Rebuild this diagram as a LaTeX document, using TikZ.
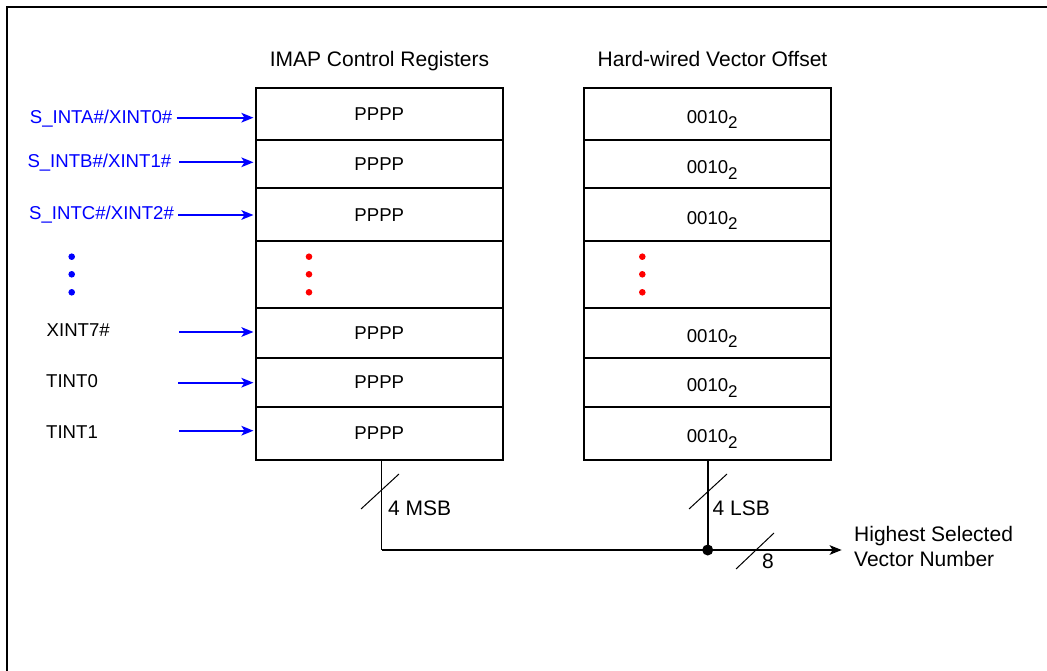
\documentclass[tikz,border=0pt]{standalone}
\usepackage{fontspec}
\setmainfont{Liberation Sans}
\usetikzlibrary{arrows.meta}
\newcommand\lblfont{\fontsize{18.6}{22}\selectfont}
\newcommand\hdfont{\fontsize{21}{25}\selectfont}
\newcommand\subfont{\fontsize{17}{19}\selectfont}
\begin{document}
\begin{tikzpicture}[x=1pt,y=-1pt,
  cell/.style={draw, line width=2pt, inner sep=0pt, outer sep=0pt},
  tipshape/.style={-{Stealth[length=12pt,width=9.5pt,inset=3pt]}},
  sig/.style={draw=blue, line width=2.2pt, tipshape, shorten >=2pt},
  sigtext/.style={text=blue, font=\lblfont, anchor=base west, inner sep=0pt},
  plain/.style={font=\lblfont, anchor=base west, inner sep=0pt},
  big/.style={font=\hdfont, inner sep=0pt},
  tick/.style={line width=1pt},
  bus/.style={line width=2pt},
]
\useasboundingbox (0,0) rectangle (1047,671);
% outer frame (left and top edges)
\draw[line width=2pt] (7,671) -- (7,7) -- (1047,7);

% register columns
\foreach \n/\t/\b in {1/88/140.5,2/140.5/188.5,3/188.5/241.5,4/241.5/308,5/308/358,6/358/407,7/407/460}{
  \node[cell, minimum height={\b-\t}, minimum width=247.5] (L\n) at (379.25,{(\t+\b)/2}) {};
  \node[cell, minimum height={\b-\t}, minimum width=246.4] (R\n) at (707.5,{(\t+\b)/2}) {};
}
\foreach \n in {1,2,3,5,6,7}{
  \node[font=\lblfont, inner sep=0pt] at (L\n) {PPPP};
  \node[font=\lblfont, inner sep=0pt, anchor=base] at ([yshift=-9.3pt]R\n.center)
    {0010\rlap{\raisebox{-5.3pt}{\subfont 2}}};
}

% column headings
\node[big, anchor=base] (h1) at (379.5,67) {IMAP Control Registers};
\node[big, anchor=base] (h2) at (712.5,67) {Hard-wired Vector Offset};

% interrupt inputs
\node[sigtext] (ia) at (29.7,123.4) {S\_INTA\#/XINT0\#};
\node[sigtext] (ib) at (27.3,167.2) {S\_INTB\#/XINT1\#};
\node[sigtext] (ic) at (29,220) {S\_INTC\#/XINT2\#};
\node[plain] (i7) at (46.5,336.7) {XINT7\#};
\node[plain] (t0) at (46,387.3) {TINT0};
\node[plain] (t1) at (46,438.3) {TINT1};

\coordinate (sa) at (176.7,117.7);
\coordinate (sb) at (179.3,162.3);
\coordinate (sc) at (178.3,215);
\coordinate (s7) at (179.3,332);
\coordinate (s8) at (178.3,382.7);
\coordinate (s9) at (179.3,430.7);
\draw[sig] (sa) -- (sa -| L1.west);
\draw[sig] (sb) -- (sb -| L2.west);
\draw[sig] (sc) -- (sc -| L3.west);
\draw[sig] (s7) -- (s7 -| L5.west);
\draw[sig] (s8) -- (s8 -| L6.west);
\draw[sig] (s9) -- (s9 -| L7.west);

% ellipsis dots
\foreach \y in {256.7,274.3,292.3}{
  \fill[blue] (71.7,\y) circle (3.3);
  \fill[red] (309,\y) circle (3.3);
  \fill[red] (642.3,\y) circle (3.3);
}

% output bus
\coordinate (msb) at (381.7,550);
\coordinate (jn) at (707.7,550);
\coordinate (out) at (841.7,550);
\draw[tick] (L7.south -| msb) -- (msb);
\draw[bus] (R7.south -| jn) -- (jn);
\draw[bus, tipshape] (msb) -- (out);
\fill (jn) circle (5.5);

\draw[tick] (361,509) -- (399,474);
\draw[tick] (689,509) -- (727,474);
\draw[tick] (736,569) -- (774,533);

\node[plain, font=\hdfont] (m) at (388,515) {4 MSB};
\node[plain, font=\hdfont] (l) at (712.5,515) {4 LSB};
\node[plain, font=\hdfont] (w) at (762,568.3) {8};
\node[plain, font=\hdfont] (o1) at (854,541.7) {Highest Selected};
\node[plain, font=\hdfont] (o2) at (854,566.7) {Vector Number};
\end{tikzpicture}
\end{document}
